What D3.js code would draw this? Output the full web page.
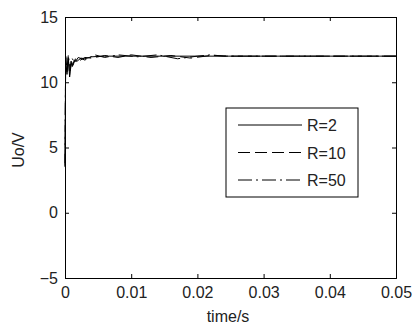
<!DOCTYPE html>
<html>
<head>
<meta charset="utf-8">
<script src="https://cdn.jsdelivr.net/npm/d3@7"></script>
<style>
  body { margin: 0; background: #fff; }
  text { font-family: "Liberation Sans", Arial, sans-serif; fill: #222; }
</style>
</head>
<body>
<script>
// values (time in s, Uo in V)
const t2  = [0, 0.0001, 0.0003, 0.0005, 0.0007, 0.0009, 0.0011, 0.0014, 0.0018, 0.0024, 0.003, 0.004, 0.006, 0.05];
const u2  = [3.5, 11.8, 10.6, 11.9, 10.4, 11.6, 11.2, 11.7, 11.6, 11.85, 11.8, 11.95, 12.0, 12.0];
const t10 = [0, 0.0001, 0.0003, 0.0005, 0.0007, 0.0009, 0.0012, 0.0016, 0.002, 0.003, 0.004, 0.006, 0.008, 0.010, 0.013, 0.016, 0.019, 0.022, 0.025, 0.05];
const u10 = [3.6, 11.9, 10.8, 11.8, 10.5, 11.7, 11.3, 11.8, 11.6, 11.9, 11.85, 12.05, 11.9, 12.1, 11.9, 12.05, 11.85, 12.05, 12.0, 12.0];
const t50 = [0, 0.0001, 0.0003, 0.0005, 0.0008, 0.0011, 0.0015, 0.002, 0.003, 0.0045, 0.006, 0.008, 0.011, 0.014, 0.017, 0.020, 0.022, 0.024, 0.05];
const u50 = [3.8, 12.0, 11.0, 12.1, 10.9, 11.8, 11.5, 11.9, 11.7, 12.1, 11.9, 12.1, 11.95, 12.1, 11.8, 12.0, 12.1, 12.0, 12.0];
const xTicks = [0, 0.01, 0.02, 0.03, 0.04, 0.05];
const yTicks = [-5, 0, 5, 10, 15];
const names = ["R=2", "R=10", "R=50"];
const dashes = [null, "12,5", "14,4,2,4"];

const width = 414, height = 329;
const m = {left: 65, top: 17, right: 396, bottom: 278};

const svg = d3.select('body').append('svg')
    .attr('width', width).attr('height', height);

const x = d3.scaleLinear().domain([0, 0.05]).range([m.left, m.right]);
const y = d3.scaleLinear().domain([-5, 15]).range([m.bottom, m.top]);

const series = [[t2, u2], [t10, u10], [t50, u50]].map(([t, u]) => t.map((d, i) => [d, u[i]]));

const line = d3.line().x(d => x(d[0])).y(d => y(d[1]));

const g = svg.append('g');
series.forEach((s, i) => {
  g.append('path').datum(s)
    .attr('d', line)
    .attr('fill', 'none')
    .attr('stroke', '#000')
    .attr('stroke-width', 1)
    .attr('stroke-dasharray', dashes[i]);
});

// axes, ticks inward on all four sides
const tk = 4;
svg.append('g').attr('transform', `translate(0,${m.bottom})`)
  .call(d3.axisBottom(x).tickValues(xTicks).tickSize(-tk).tickPadding(9).tickFormat(d => d === 0 ? "0" : d3.format(".2f")(d)));
svg.append('g').attr('transform', `translate(0,${m.top})`)
  .call(d3.axisTop(x).tickValues(xTicks).tickSize(-tk).tickFormat(""));
svg.append('g').attr('transform', `translate(${m.left},0)`)
  .call(d3.axisLeft(y).tickValues(yTicks).tickSize(-tk).tickPadding(7));
svg.append('g').attr('transform', `translate(${m.right},0)`)
  .call(d3.axisRight(y).tickValues(yTicks).tickSize(-tk).tickFormat(""));

svg.selectAll('.domain').attr('stroke', '#000');
svg.selectAll('.tick line').attr('stroke', '#000');
svg.selectAll('.tick text').style('font-size', '16px').attr('fill', '#222');

svg.append('text').attr('x', 228).attr('y', 322).attr('text-anchor', 'middle')
  .style('font-size', '16px').text('time/s');
svg.append('text').attr('transform', 'translate(24,150) rotate(-90)')
  .attr('text-anchor', 'middle').style('font-size', '16px').text('Uo/V');

// legend
const lg = svg.append('g');
lg.append('rect').attr('x', 226).attr('y', 108).attr('width', 132).attr('height', 89)
  .attr('fill', '#fff').attr('stroke', '#000');
names.forEach((n, i) => {
  const yy = 125 + i * 27.5;
  lg.append('line').attr('x1', 238).attr('x2', 302).attr('y1', yy).attr('y2', yy)
    .attr('stroke', '#000').attr('stroke-dasharray', dashes[i]);
  lg.append('text').attr('x', 307).attr('y', yy + 6).style('font-size', '16px').text(n);
});
</script>
</body>
</html>
